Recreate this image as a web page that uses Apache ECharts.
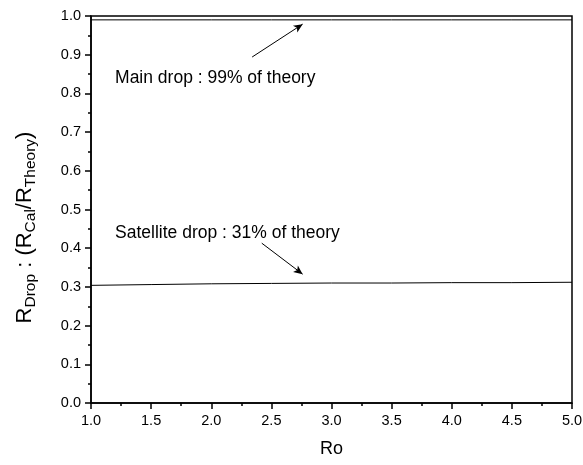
<!DOCTYPE html>
<html><head><meta charset="utf-8">
<script src="https://cdn.jsdelivr.net/npm/echarts@6/dist/echarts.min.js"></script>
<style>html,body{margin:0;padding:0;background:#fff}#c{width:583px;height:465px}</style>
</head><body><div id="c"></div>
<script>
const ro = [1.0, 1.5, 2.0, 2.5, 3.0, 3.5, 4.0, 4.5, 5.0];
const mainDrop = [0.99, 0.99, 0.99, 0.99, 0.99, 0.99, 0.99, 0.99, 0.99];
const satDrop = [0.304, 0.306, 0.308, 0.309, 0.310, 0.310, 0.311, 0.311, 0.312];
const mainLabel = 'Main drop : 99% of theory';
const satLabel = 'Satellite drop : 31% of theory';
const mainArrow = [[2.34, 0.894], [2.76, 0.979]];
const satArrow = [[2.42, 0.413], [2.76, 0.333]];
const mainTextAt = [1.2, 0.84];
const satTextAt = [1.2, 0.44];

const FONT = 'Liberation Sans, Arial, sans-serif';
const chart = echarts.init(document.getElementById('c'));
function arrowLine(a){
  return {silent:true, symbol:['none','arrow'], symbolSize:[6,9],
    lineStyle:{color:'#000', width:1, type:'solid'}, label:{show:false},
    data:[[{coord:a[0]},{coord:a[1]}]]};
}
function textPoint(p, txt){
  return {silent:true, symbol:'circle', symbolSize:0,
    data:[{coord:p, value:txt}],
    label:{show:true, position:'right', distance:0, formatter:txt, color:'#000', fontSize:17.5, fontFamily:FONT}};
}
chart.setOption({
  animation:false,
  grid:{left:91, right:11, top:16, bottom:62, show:true, borderColor:'#000', borderWidth:1.5, backgroundColor:'transparent', outerBoundsMode:'none', containLabel:false},
  xAxis:{type:'value', min:1, max:5, interval:0.5, name:'Ro', nameLocation:'middle', nameGap:37,
    nameTextStyle:{fontSize:18, color:'#000', fontFamily:FONT},
    axisLine:{lineStyle:{color:'#000', width:1.5}},
    axisTick:{inside:false, length:6, lineStyle:{color:'#000', width:1.5}},
    minorTick:{show:true, splitNumber:2, length:3, lineStyle:{color:'#000', width:1.5}},
    axisLabel:{color:'#000', fontSize:14.5, fontFamily:FONT, margin:10, formatter:v=>v.toFixed(1)},
    splitLine:{show:false}},
  yAxis:{type:'value', min:0, max:1, interval:0.1, name:'{n|R}{s|Drop}{n| : (R}{s|Cal}{n|/R}{s|Theory}{n|)}',
    nameLocation:'middle', nameGap:52, nameRotate:90,
    nameTextStyle:{color:'#000', fontFamily:FONT, padding:[0,36,0,0], rich:{
      n:{fontSize:22, color:'#000', fontFamily:FONT, lineHeight:28, verticalAlign:'middle'},
      s:{fontSize:15.5, color:'#000', fontFamily:FONT, lineHeight:28, verticalAlign:'bottom', padding:[11,0,0,0]}}},
    axisLine:{lineStyle:{color:'#000', width:1.5}},
    axisTick:{inside:false, length:6, lineStyle:{color:'#000', width:1.5}},
    minorTick:{show:true, splitNumber:2, length:3, lineStyle:{color:'#000', width:1.5}},
    axisLabel:{color:'#000', fontSize:14.5, fontFamily:FONT, margin:10, formatter:v=>v.toFixed(1)},
    splitLine:{show:false}},
  series:[
    {type:'line', data:ro.map((x,i)=>[x, mainDrop[i]]), showSymbol:false, lineStyle:{color:'#000', width:1}, itemStyle:{color:'#000'},
      markLine:arrowLine(mainArrow), markPoint:textPoint(mainTextAt, mainLabel)},
    {type:'line', data:ro.map((x,i)=>[x, satDrop[i]]), showSymbol:false, lineStyle:{color:'#000', width:1}, itemStyle:{color:'#000'},
      markLine:arrowLine(satArrow), markPoint:textPoint(satTextAt, satLabel)}
  ]
});
</script></body></html>
